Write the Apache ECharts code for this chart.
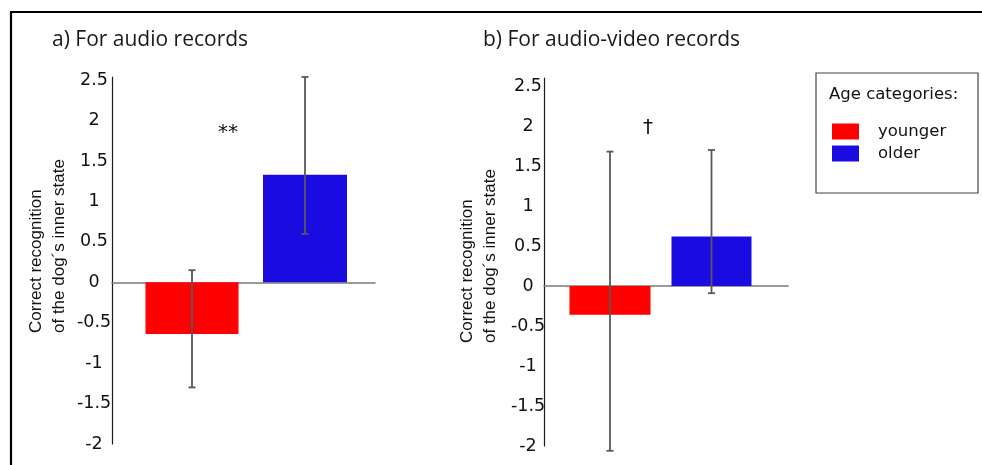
<!DOCTYPE html>
<html>
<head>
<meta charset="utf-8">
<script src="https://cdn.jsdelivr.net/npm/echarts@6/dist/echarts.min.js"></script>
<style>
  html, body { margin: 0; padding: 0; background: #fff; }
  #chart { width: 982px; height: 465px; }
</style>
</head>
<body>
<div id="chart"></div>
<script>
// Age groups and the two panels of results (mean with lower / upper error limits)
const groups = ['younger', 'older'];
const audioMeans = [-0.64, 1.33];
const audioLow = [-1.30, 0.60];
const audioHigh = [0.15, 2.54];
const videoMeans = [-0.36, 0.62];
const videoLow = [-2.06, -0.09];
const videoHigh = [1.68, 1.70];
const yMin = -2;
const yStep = 0.5;
const panelTitles = ['a) For audio records', 'b) For audio-video records'];
const significance = ['**', '\u2020'];
const axisName = 'Correct recognition\nof the dog\u00b4s inner state';
const legendTitle = 'Age categories:';
const groupColors = ['#ff0000', '#1a0be0'];

// Layout of each panel: one grid carries the visible axes, a second one the bars
const panels = [
  { means: audioMeans, low: audioLow, high: audioHigh, yMax: 2.54,
    axes: { left: 112, top: 77, width: 263, height: 367 },
    bars: { left: 135.5, width: 226 }, barWidths: [93, 84], labelMargin: 18,
    title: { left: 52, top: 30 }, nameAt: [48, 333], markAt: [228, 133] },
  { means: videoMeans, low: videoLow, high: videoHigh, yMax: 2.6,
    axes: { left: 544, top: 78, width: 244, height: 368 },
    bars: { left: 559.25, width: 203 }, barWidths: [81, 80], labelMargin: 16,
    title: { left: 483, top: 30 }, nameAt: [478.5, 343], markAt: [648, 128] }
];

function renderError(params, api) {
  const x = api.value(0);
  const lo = api.coord([x, api.value(1)]);
  const hi = api.coord([x, api.value(2)]);
  const cap = 3.5;
  const style = { stroke: '#595959', lineWidth: 1.8 };
  return {
    type: 'group',
    children: [
      { type: 'line', shape: { x1: lo[0], y1: lo[1], x2: hi[0], y2: hi[1] }, style: style },
      { type: 'line', shape: { x1: lo[0] - cap, y1: lo[1], x2: lo[0] + cap, y2: lo[1] }, style: style },
      { type: 'line', shape: { x1: hi[0] - cap, y1: hi[1], x2: hi[0] + cap, y2: hi[1] }, style: style }
    ]
  };
}

const grid = [], xAxis = [], yAxis = [], series = [], title = [], graphic = [];

panels.forEach(function (p, i) {
  const gAxes = grid.length;
  grid.push({ left: p.axes.left, top: p.axes.top, width: p.axes.width, height: p.axes.height });
  const gBars = grid.length;
  grid.push({ left: p.bars.left, top: p.axes.top, width: p.bars.width, height: p.axes.height });

  // visible axes: vertical scale and the zero baseline
  yAxis.push({
    type: 'value', gridIndex: gAxes, min: yMin, max: p.yMax, interval: yStep,
    axisLine: { show: true, lineStyle: { color: '#1a1a1a', width: 1.2 } },
    axisTick: { show: false }, splitLine: { show: false },
    axisLabel: { showMaxLabel: false, align: 'center', margin: p.labelMargin,
      padding: [5, 0, 0, 0],
      fontFamily: 'DejaVu Sans', fontSize: 17.5, color: '#111' }
  });
  xAxis.push({
    type: 'category', gridIndex: gAxes, data: groups,
    axisLine: { show: true, onZero: true, lineStyle: { color: '#7a7a7a', width: 1.5 } },
    axisTick: { show: false }, axisLabel: { show: false }
  });

  // bar grid: hidden axes with the same vertical scale, one category axis per group
  const yBars = yAxis.length;
  yAxis.push({ type: 'value', gridIndex: gBars, min: yMin, max: p.yMax, interval: yStep, show: false });
  const xYoung = xAxis.length;
  xAxis.push({ type: 'category', gridIndex: gBars, data: groups, position: 'bottom', show: false });
  const xOld = xAxis.length;
  xAxis.push({ type: 'category', gridIndex: gBars, data: groups, position: 'top', show: false });

  groups.forEach(function (g, k) {
    series.push({
      type: 'bar', name: g, xAxisIndex: k === 0 ? xYoung : xOld, yAxisIndex: yBars,
      barWidth: p.barWidths[k],
      data: groups.map(function (_, j) { return j === k ? p.means[j] : '-'; }),
      itemStyle: { color: groupColors[k] }, z: 2
    });
  });
  series.push({
    type: 'custom', name: 'error' + i, xAxisIndex: xYoung, yAxisIndex: yBars,
    renderItem: renderError, encode: { x: 0, y: [1, 2] }, z: 4, clip: false,
    data: groups.map(function (_, j) { return [j, p.low[j], p.high[j]]; })
  });

  title.push({
    text: panelTitles[i], left: p.title.left, top: p.title.top, padding: 0,
    textStyle: { fontFamily: 'Open Sans', fontSize: 21, fontWeight: 'normal', color: '#1a1a1a' }
  });

  graphic.push({
    type: 'text', x: p.nameAt[0], y: p.nameAt[1], rotation: Math.PI / 2,
    style: { text: axisName, fontFamily: 'Liberation Sans', fontSize: 17, lineHeight: 23,
      align: 'left', verticalAlign: 'middle', fill: '#111' }
  });
  graphic.push({
    type: 'text', x: p.markAt[0], y: p.markAt[1],
    style: { text: significance[i], fontFamily: 'DejaVu Sans', fontSize: 20,
      align: 'center', verticalAlign: 'middle', fill: '#111' }
  });
});

// frame lines along the top and left edge
graphic.push({
  type: 'polyline', shape: { points: [[11, 465], [11, 12], [982, 12]] },
  style: { stroke: '#000', lineWidth: 2.2, fill: null }
});
// legend box and its heading
graphic.push({
  type: 'rect', shape: { x: 816, y: 73, width: 162, height: 120 },
  style: { stroke: '#444', lineWidth: 1.2, fill: null }
});
graphic.push({
  type: 'text', x: 829, y: 95,
  style: { text: legendTitle, fontFamily: 'DejaVu Sans', fontSize: 16.5,
    align: 'left', verticalAlign: 'middle', fill: '#111' }
});

const chart = echarts.init(document.getElementById('chart'), null, { renderer: 'canvas' });
chart.setOption({
  animation: false,
  backgroundColor: '#fff',
  title: title,
  grid: grid,
  xAxis: xAxis,
  yAxis: yAxis,
  series: series,
  graphic: graphic,
  legend: {
    data: groups, orient: 'vertical', left: 832, top: 123, padding: 0,
    itemWidth: 27, itemHeight: 16, itemGap: 5, icon: 'rect', selectedMode: false,
    textStyle: { fontFamily: 'DejaVu Sans', fontSize: 16.5, color: '#111', padding: [0, 0, 0, 14] }
  }
});
</script>
</body>
</html>
